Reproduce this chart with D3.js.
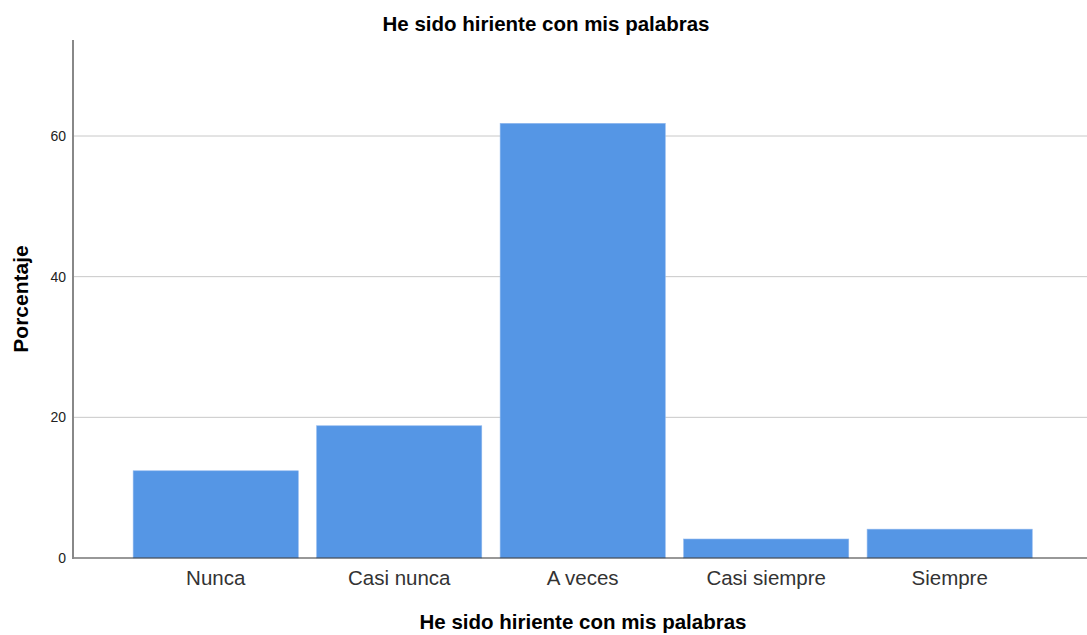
<!DOCTYPE html>
<html><head><meta charset="utf-8">
<script src="https://cdn.jsdelivr.net/npm/d3@7"></script>
<style>body{margin:0;background:#fff}svg{display:block;font-family:"Liberation Sans",Arial,sans-serif}</style>
</head><body><svg id="c" width="1087" height="635"></svg>
<script>
const categories = ["Nunca","Casi nunca","A veces","Casi siempre","Siempre"];
const values = [12.4, 18.8, 61.8, 2.7, 4.1];
const yTicks = [0,20,40,60];
const title = "He sido hiriente con mis palabras";
const xTitle = "He sido hiriente con mis palabras";
const yTitle = "Porcentaje";

const svg = d3.select("#c");
const x0 = 73, x1 = 1087, yTop = 40, yBot = 558;
const x = d3.scaleBand().domain(categories).range([114.8, 1050.6]).paddingInner(0.1).paddingOuter(0.1);
const y = d3.scaleLinear().domain([0, 73.65]).range([yBot, yTop]);

// gridlines
svg.append("g").selectAll("line").data(yTicks.filter(d=>d>0)).join("line")
  .attr("x1", x0).attr("x2", x1).attr("y1", d=>y(d)).attr("y2", d=>y(d))
  .attr("stroke", "#c8c8c8").attr("stroke-width", 1);

// bars
svg.append("g").selectAll("rect").data(values).join("rect")
  .attr("x", (d,i)=>x(categories[i])).attr("width", x.bandwidth())
  .attr("y", d=>y(d)).attr("height", d=>yBot - y(d))
  .attr("fill", "#5596e5").attr("stroke", "#8fb8ee").attr("stroke-width", 0.6);

// x baseline
svg.append("line").attr("x1", x0).attr("x2", x1).attr("y1", yBot).attr("y2", yBot)
  .attr("stroke", "#333").attr("stroke-width", 1.2);

// y axis
const yAxis = d3.axisLeft(y).tickValues(yTicks).tickSize(0).tickPadding(7);
const gy = svg.append("g").attr("transform", `translate(${x0},0)`).call(yAxis);
gy.select(".domain").remove();
gy.selectAll("text").attr("font-size", 14).attr("fill", "#222").attr("font-family", "'Liberation Sans',Arial,sans-serif");
svg.append("line").attr("x1", x0).attr("x2", x0).attr("y1", yTop).attr("y2", yBot+1)
  .attr("stroke", "#888").attr("stroke-width", 2);

// x axis labels
const xAxis = d3.axisBottom(x).tickSize(0).tickPadding(12);
const gx = svg.append("g").attr("transform", `translate(0,${yBot})`).call(xAxis);
gx.select(".domain").remove();
gx.selectAll("text").attr("font-size", 20.5).attr("fill", "#333").attr("font-family", "'Liberation Sans',Arial,sans-serif");

// titles
svg.append("text").attr("x", 546).attr("y", 31).attr("text-anchor", "middle")
  .attr("font-size", 20.5).attr("font-weight", "bold").attr("fill", "#000").text(title);
svg.append("text").attr("x", 583).attr("y", 629).attr("text-anchor", "middle")
  .attr("font-size", 20.5).attr("font-weight", "bold").attr("fill", "#000").text(xTitle);
svg.append("text").attr("transform", "translate(28,299) rotate(-90)").attr("text-anchor", "middle")
  .attr("font-size", 21).attr("font-weight", "bold").attr("fill", "#000").text(yTitle);
</script></body></html>
